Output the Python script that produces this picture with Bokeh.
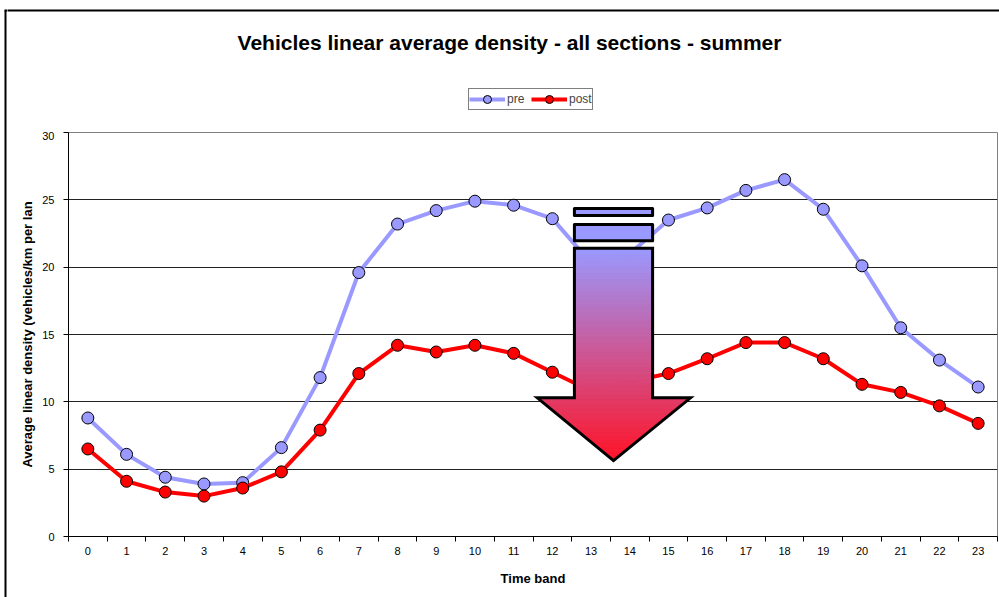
from bokeh.plotting import figure
from bokeh.models import (ColumnDataSource, FixedTicker, Legend, LegendItem, Range1d, Label)
from bokeh.layouts import row, column
from bokeh.embed import file_html
from bokeh.resources import INLINE

# ---------------- data ----------------
hours = list(range(24))
tick_labels = [str(h) for h in hours]
pre = [8.8, 6.1, 4.4, 3.9, 4.0, 6.6, 11.8, 19.6, 23.2, 24.2, 24.9, 24.6,
       23.6, 20.3, 21.0, 23.5, 24.4, 25.7, 26.5, 24.3, 20.1, 15.5, 13.1, 11.1]
post = [6.5, 4.1, 3.3, 3.0, 3.6, 4.8, 7.9, 12.1, 14.2, 13.7, 14.2, 13.6,
        12.2, 10.8, 11.5, 12.1, 13.2, 14.4, 14.4, 13.2, 11.3, 10.7, 9.7, 8.4]
y_ticks = [0, 5, 10, 15, 20, 25, 30]
series_names = ["pre", "post"]
TITLE = "Vehicles linear average density - all sections - summer"

PRE_COLOR = "#9999FF"
POST_COLOR = "#FF0000"
FONT = "Liberation Sans"

TOTAL_W, TOTAL_H = 999, 597
STRIP_W = 7
MAIN_W = TOTAL_W - STRIP_W
HEAD_H = 131
MAIN_H = TOTAL_H - HEAD_H


def bare(width, height, xr, yr):
    f = figure(width=width, height=height, output_backend="svg", toolbar_location=None,
               x_range=xr, y_range=yr, x_axis_type=None, y_axis_type=None,
               min_border=0, min_border_left=0, min_border_right=0,
               min_border_top=0, min_border_bottom=0)
    f.grid.visible = False
    f.outline_line_color = None
    f.background_fill_color = "white"
    f.border_fill_color = "white"
    f.frame_align = False
    return f


# ---------------- left strip (outer chart border) ----------------
strip = bare(STRIP_W, TOTAL_H, Range1d(0, STRIP_W), Range1d(TOTAL_H, 0))
strip.segment(x0=[5], y0=[10], x1=[5], y1=[TOTAL_H + 5], line_color="black", line_width=2)
strip.segment(x0=[4], y0=[10], x1=[STRIP_W + 1], y1=[10], line_color="black", line_width=2)

# ---------------- header: title + legend ----------------
head = bare(MAIN_W, HEAD_H, Range1d(0, MAIN_W), Range1d(HEAD_H, 0))
head.segment(x0=[-1], y0=[10], x1=[MAIN_W + 1], y1=[10], line_color="black", line_width=2)
head.add_layout(Label(x=502, y=42, text=TITLE, text_align="center", text_baseline="middle",
                      text_font=FONT, text_font_size="21px", text_font_style="bold",
                      text_color="black"))
# legend proxies (one undefined point each, so nothing is drawn in the header)
proxy = ColumnDataSource(dict(x=[float("nan")], y=[float("nan")]))
hl_pre = head.line("x", "y", source=proxy, line_color=PRE_COLOR, line_width=4)
hs_pre = head.scatter("x", "y", source=proxy, size=12, marker="circle",
                      fill_color=PRE_COLOR, line_color="black", line_width=1)
hl_post = head.line("x", "y", source=proxy, line_color=POST_COLOR, line_width=4)
hs_post = head.scatter("x", "y", source=proxy, size=12, marker="circle",
                       fill_color=POST_COLOR, line_color="black", line_width=1)
legend = Legend(items=[LegendItem(label=series_names[0], renderers=[hl_pre, hs_pre]),
                       LegendItem(label=series_names[1], renderers=[hl_post, hs_post])],
                orientation="horizontal", location=(461, 21),
                border_line_color="black", border_line_width=1,
                padding=0, spacing=4, margin=0, glyph_width=36, glyph_height=20,
                label_height=20, label_standoff=2,
                label_text_font=FONT, label_text_font_size="12px",
                background_fill_color="white", background_fill_alpha=1)
head.add_layout(legend, "center")

# ---------------- main chart ----------------
p = figure(width=MAIN_W, height=MAIN_H, output_backend="svg", toolbar_location=None,
           x_range=Range1d(-0.5, 23.5), y_range=Range1d(0, 30),
           min_border_left=61, min_border_right=2, min_border_top=1,
           min_border_bottom=61)
p.frame_align = False
p.background_fill_color = "white"
p.border_fill_color = "white"
p.outline_line_color = "#808080"
p.outline_line_width = 1

xa = p.xaxis[0]
xa.ticker = FixedTicker(ticks=hours, minor_ticks=[h - 0.5 for h in range(25)])
xa.major_label_overrides = {h: t for h, t in zip(hours, tick_labels)}
xa.major_tick_out = 0
xa.major_tick_in = 0
xa.minor_tick_out = 5
xa.minor_tick_in = 0
xa.minor_tick_line_color = "black"
xa.axis_line_color = "black"
xa.major_label_standoff = 5
xa.major_label_text_font = FONT
xa.major_label_text_font_size = "11px"
xa.major_label_text_color = "black"
xa.axis_label = "Time band"
xa.axis_label_text_font = FONT
xa.axis_label_text_font_size = "13px"
xa.axis_label_text_font_style = "bold"
xa.axis_label_text_color = "black"
xa.axis_label_standoff = 13

ya = p.yaxis[0]
ya.ticker = FixedTicker(ticks=y_ticks)
ya.major_tick_out = 5
ya.major_tick_in = 0
ya.minor_tick_out = 0
ya.minor_tick_in = 0
ya.axis_line_color = "black"
ya.major_tick_line_color = "black"
ya.major_label_standoff = 9
ya.major_label_text_font = FONT
ya.major_label_text_font_size = "11px"
ya.major_label_text_color = "black"
ya.axis_label = "Average linear density (vehicles/km per lan"
ya.axis_label_text_font = FONT
ya.axis_label_text_font_size = "13px"
ya.axis_label_text_font_style = "bold"
ya.axis_label_text_color = "black"
ya.axis_label_standoff = 4

p.xgrid.grid_line_color = None
p.ygrid.ticker = FixedTicker(ticks=y_ticks[1:-1])
p.ygrid.grid_line_color = "#222222"
p.ygrid.grid_line_width = 1

src = ColumnDataSource(dict(x=hours, pre=pre, post=post))
p.line("x", "pre", source=src, line_color=PRE_COLOR, line_width=4)
p.scatter("x", "pre", source=src, size=12, marker="circle",
          fill_color=PRE_COLOR, line_color="black", line_width=1)
p.line("x", "post", source=src, line_color=POST_COLOR, line_width=4)
p.scatter("x", "post", source=src, size=12, marker="circle",
          fill_color=POST_COLOR, line_color="black", line_width=1)

# ---------------- decorative gradient arrow ----------------
SH_L, SH_R = 12.57, 14.59      # shaft left/right
HD_L, HD_R = 11.61, 15.57      # head left/right
TIP_X, TIP_Y = 13.58, 5.64
SH_TOP, HD_BASE = 21.4, 10.3
STRIPS = [(23.16, 21.97), (24.35, 23.83)]
C0 = (153, 153, 255)
C1 = (255, 20, 40)


def grad(y):
    t = (SH_TOP - y) / (SH_TOP - TIP_Y)
    t = min(max(t, 0), 1)
    return "#%02x%02x%02x" % tuple(int(round(a + (b - a) * t)) for a, b in zip(C0, C1))


n_sh = 70
qs = dict(top=[], bottom=[], color=[])
for i in range(n_sh):
    top = SH_TOP - (SH_TOP - HD_BASE) * i / n_sh
    bot = SH_TOP - (SH_TOP - HD_BASE) * (i + 1) / n_sh
    qs["top"].append(top)
    qs["bottom"].append(bot)
    qs["color"].append(grad((top + bot) / 2))
p.quad(left=SH_L, right=SH_R, top="top", bottom="bottom", fill_color="color",
       line_color="color", line_width=1, source=ColumnDataSource(qs))

n_hd = 50
ps = dict(xs=[], ys=[], color=[])
half_l = TIP_X - HD_L
half_r = HD_R - TIP_X
for i in range(n_hd):
    y0 = HD_BASE - (HD_BASE - TIP_Y) * i / n_hd
    y1 = HD_BASE - (HD_BASE - TIP_Y) * (i + 1) / n_hd
    f0 = (y0 - TIP_Y) / (HD_BASE - TIP_Y)
    f1 = (y1 - TIP_Y) / (HD_BASE - TIP_Y)
    ps["xs"].append([TIP_X - half_l * f0, TIP_X + half_r * f0,
                     TIP_X + half_r * f1, TIP_X - half_l * f1])
    ps["ys"].append([y0, y0, y1, y1])
    ps["color"].append(grad((y0 + y1) / 2))
p.patches("xs", "ys", fill_color="color", line_color="color", line_width=1,
          source=ColumnDataSource(ps))

p.patch([SH_L, SH_R, SH_R, HD_R, TIP_X, HD_L, SH_L],
        [SH_TOP, SH_TOP, HD_BASE, HD_BASE, TIP_Y, HD_BASE, HD_BASE],
        fill_color=None, fill_alpha=0, line_color="black", line_width=3,
        line_join="miter")
for (t, b) in STRIPS:
    p.quad(left=SH_L, right=SH_R, top=t, bottom=b, fill_color=PRE_COLOR,
           line_color="black", line_width=3, line_join="round")

layout = row(strip, column(head, p, spacing=0), spacing=0)

open("out.html", "w").write(file_html(layout, INLINE))
